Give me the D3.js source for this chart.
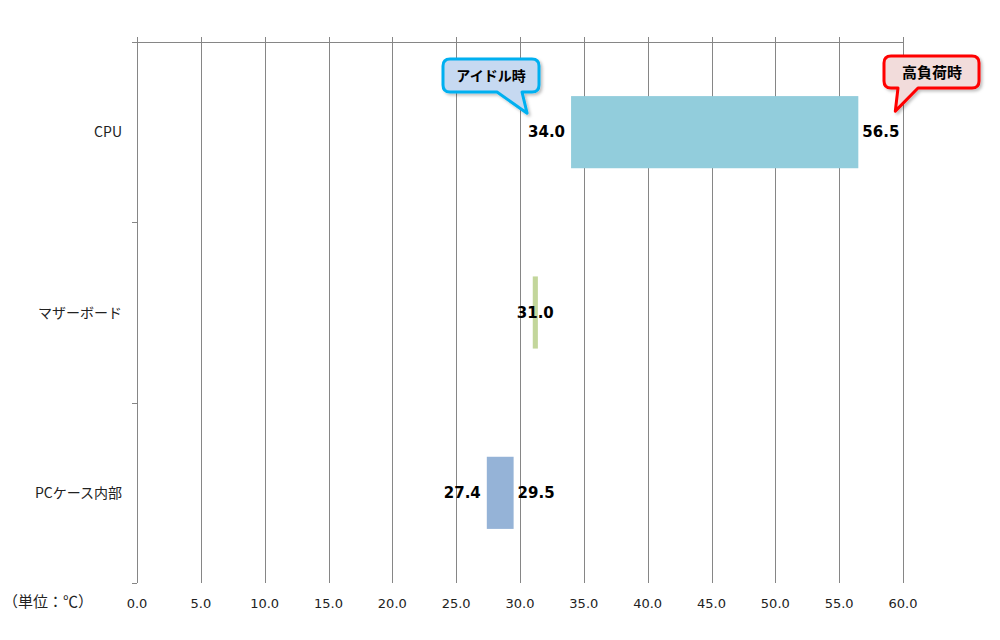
<!DOCTYPE html>
<html>
<head>
<meta charset="utf-8">
<script src="https://cdn.jsdelivr.net/npm/d3@7/dist/d3.min.js"></script>
<style>
  body { margin: 0; background: #fff; }
  text { font-family: 'DejaVu Sans', Verdana, sans-serif; }
  .jp { font-family: 'Noto Sans CJK JP', 'DejaVu Sans', sans-serif; }
</style>
</head>
<body>
<div id="chart"></div>
<script>
// chart data
const categories = ['CPU', 'マザーボード', 'PCケース内部'];
const idleTemps = [34.0, 31.0, 27.4];   // アイドル時
const loadTemps = [56.5, 31.4, 29.5];   // 高負荷時
const barColors = ['#92CDDC', '#C3D69B', '#95B3D7'];
const xTicks = [0, 5, 10, 15, 20, 25, 30, 35, 40, 45, 50, 55, 60];
const unitLabel = '（単位：℃）';
const idleNote = 'アイドル時';
const loadNote = '高負荷時';

const width = 1000;
const height = 640;

const svg = d3.select('#chart').append('svg')
  .attr('width', width)
  .attr('height', height);

const plotLeft = 137, plotRight = 903, plotTop = 42, plotBottom = 583;

const x = d3.scaleLinear()
  .domain([0, 60])
  .range([plotLeft, plotRight]);

const y = d3.scaleBand()
  .domain(categories)
  .range([plotTop, plotBottom]);

const grid = svg.append('g');
//vertical grid lines
grid.selectAll('line.grid')
  .data(xTicks)
  .enter().append('line')
  .attr('class', 'grid')
  .attr('x1', d => Math.round(x(d)) + 0.5)
  .attr('x2', d => Math.round(x(d)) + 0.5)
  .attr('y1', plotTop - 5)
  .attr('y2', plotBottom)
  .attr('stroke', '#868686')
  .attr('stroke-width', 1);

//top line (value axis)
grid.append('line')
  .attr('x1', plotLeft - 5)
  .attr('x2', plotRight + 0.5)
  .attr('y1', plotTop + 0.5)
  .attr('y2', plotTop + 0.5)
  .attr('stroke', '#868686');

//category ticks on the left axis
const catEdges = categories.map(c => y(c)).concat([plotBottom]);
grid.selectAll('line.ctick')
  .data(catEdges)
  .enter().append('line')
  .attr('class', 'ctick')
  .attr('x1', plotLeft - 5)
  .attr('x2', plotLeft)
  .attr('y1', d => Math.round(d) + 0.5)
  .attr('y2', d => Math.round(d) + 0.5)
  .attr('stroke', '#868686');

//x tick labels
svg.append('g').selectAll('text')
  .data(xTicks)
  .enter().append('text')
  .attr('x', d => x(d))
  .attr('y', 608)
  .style('font-size', '13px')
  .style('text-anchor', 'middle')
  .style('fill', '#222')
  .text(d => d.toFixed(1));

//unit label
svg.append('text')
  .attr('class', 'jp')
  .attr('x', 3)
  .attr('y', 607)
  .style('font-size', '15px')
  .style('fill', '#222')
  .text(unitLabel);

//category labels
svg.append('g').selectAll('text')
  .data(categories)
  .enter().append('text')
  .attr('class', 'jp')
  .attr('x', 122)
  .attr('y', d => y(d) + y.bandwidth() / 2 + 5)
  .style('font-size', '14px')
  .style('text-anchor', 'end')
  .style('fill', '#222')
  .text(d => d);

//bars from idle to load
const barH = y.bandwidth() * 0.4;
const rows = categories.map((c, i) => ({ cat: c, lo: idleTemps[i], hi: loadTemps[i], color: barColors[i] }));

svg.append('g').selectAll('rect')
  .data(rows)
  .enter().append('rect')
  .attr('x', d => x(d.lo))
  .attr('width', d => x(d.hi) - x(d.lo))
  .attr('y', d => y(d.cat) + y.bandwidth() / 2 - barH / 2)
  .attr('height', barH)
  .attr('fill', d => d.color);

//value labels
const labels = svg.append('g');
rows.forEach(d => {
  const cy = y(d.cat) + y.bandwidth() / 2 + 5;
  if (d.hi - d.lo < 1) {
    // bar too thin: one label over it
    labels.append('text')
      .attr('x', (x(d.lo) + x(d.hi)) / 2)
      .attr('y', cy)
      .style('font-size', '15px')
      .style('font-weight', 'bold')
      .style('text-anchor', 'middle')
      .text(d.lo.toFixed(1));
    return;
  }
  labels.append('text')
    .attr('x', x(d.lo) - 6)
    .attr('y', cy)
    .style('font-size', '15px')
    .style('font-weight', 'bold')
    .style('text-anchor', 'end')
    .text(d.lo.toFixed(1));
  labels.append('text')
    .attr('x', x(d.hi) + 4)
    .attr('y', cy)
    .style('font-size', '15px')
    .style('font-weight', 'bold')
    .style('text-anchor', 'start')
    .text(d.hi.toFixed(1));
});

//callout shape: rounded box with a pointer from the bottom edge
function calloutPath(x0, y0, x1, y1, r, pa, pb, tx, ty) {
  return 'M' + (x0 + r) + ',' + y0 +
    'H' + (x1 - r) + 'Q' + x1 + ',' + y0 + ' ' + x1 + ',' + (y0 + r) +
    'V' + (y1 - r) + 'Q' + x1 + ',' + y1 + ' ' + (x1 - r) + ',' + y1 +
    'H' + pb + 'L' + tx + ',' + ty + 'L' + pa + ',' + y1 +
    'H' + (x0 + r) + 'Q' + x0 + ',' + y1 + ' ' + x0 + ',' + (y1 - r) +
    'V' + (y0 + r) + 'Q' + x0 + ',' + y0 + ' ' + (x0 + r) + ',' + y0 + 'Z';
}

const defs = svg.append('defs');
const filt = defs.append('filter').attr('id', 'shadow')
  .attr('x', '-20%').attr('y', '-20%').attr('width', '140%').attr('height', '140%');
filt.append('feDropShadow')
  .attr('dx', 2).attr('dy', 2).attr('stdDeviation', 1.5)
  .attr('flood-color', '#000').attr('flood-opacity', 0.25);

const cpuMid = y('CPU') + y.bandwidth() / 2;

//idle callout (blue)
svg.append('path')
  .attr('d', calloutPath(443, 59, 539, 92, 7, 497, 522, x(idleTemps[0]) - 44, cpuMid - 19))
  .attr('fill', '#C6D9F1')
  .attr('stroke', '#00B0F0')
  .attr('stroke-width', 3)
  .attr('stroke-linejoin', 'round')
  .attr('filter', 'url(#shadow)');
svg.append('text')
  .attr('class', 'jp')
  .attr('x', 491)
  .attr('y', 81)
  .style('font-size', '14px')
  .style('font-weight', 'bold')
  .style('text-anchor', 'middle')
  .text(idleNote);

//load callout (red)
svg.append('path')
  .attr('d', calloutPath(884, 56, 979, 88, 7, 898, 918, x(loadTemps[0]) + 37, cpuMid - 21))
  .attr('fill', '#F2DCDB')
  .attr('stroke', '#FF0000')
  .attr('stroke-width', 3)
  .attr('stroke-linejoin', 'round')
  .attr('filter', 'url(#shadow)');
svg.append('text')
  .attr('class', 'jp')
  .attr('x', 932)
  .attr('y', 78)
  .style('font-size', '15px')
  .style('font-weight', 'bold')
  .style('text-anchor', 'middle')
  .text(loadNote);
</script>
</body>
</html>
